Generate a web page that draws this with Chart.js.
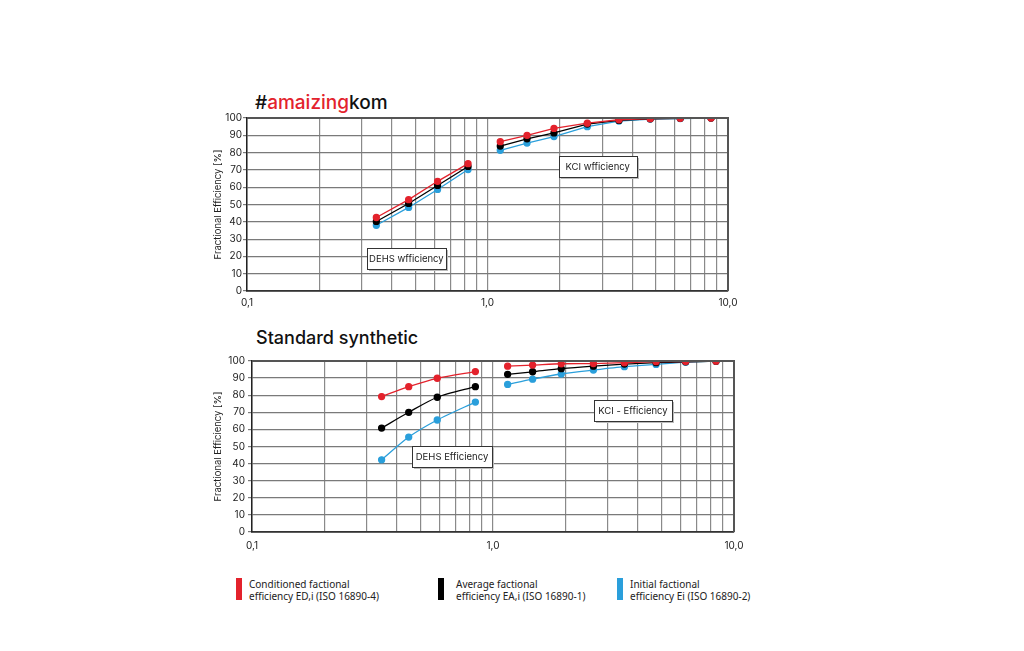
<!DOCTYPE html>
<html>
<head>
<meta charset="utf-8">
<script src="https://cdn.jsdelivr.net/npm/chart.js@4.4.1/dist/chart.umd.min.js"></script>
<style>
  body { margin: 0; background: #fff; width: 1024px; height: 651px; position: relative; overflow: hidden; font-family: Inter, Roboto, sans-serif; }
  .title { position: absolute; font-weight: 500; color: #111; line-height: 1; white-space: nowrap; }
  .title .red { color: #e3222c; }
  .box { position: absolute; }
  .legend-item { position: absolute; top: 578px; height: 22px; }
  .legend-item .sw { position: absolute; left: 0; top: 0; width: 6px; height: 22px; }
  .legend-item .txt { position: absolute; top: 0px; font-family: "Noto Sans", sans-serif; font-size: 10px; line-height: 12px; color: #222; white-space: nowrap; }
</style>
</head>
<body>
<div class="title" style="left:255px; top:93px; font-size:19px;">#<span class="red">amaizing</span>kom</div>
<div class="title" style="left:256px; top:329px; font-size:18px;">Standard synthetic</div>

<div class="box" style="left:200px; top:110px; width:550px; height:202px;"><canvas id="topChart"></canvas></div>
<div class="box" style="left:200px; top:352px; width:556px; height:202px;"><canvas id="bottomChart"></canvas></div>

<div class="legend-item" style="left:236px;"><div class="sw" style="background:#e3222c"></div><div class="txt" style="left:13px">Conditioned factional<br>efficiency ED,i (ISO 16890-4)</div></div>
<div class="legend-item" style="left:438px;"><div class="sw" style="background:#000"></div><div class="txt" style="left:18px">Average factional<br>efficiency EA,i (ISO 16890-1)</div></div>
<div class="legend-item" style="left:617px;"><div class="sw" style="background:#2a9fdb"></div><div class="txt" style="left:13px">Initial factional<br>efficiency Ei (ISO 16890-2)</div></div>

<script>
// particle size ticks (log grid) and labels
const xTicks = [0.1, 0.2, 0.3, 0.4, 0.5, 0.6, 0.7, 0.8, 0.9, 1, 2, 3, 4, 5, 6, 7, 8, 9, 10];
const xTickLabels = ['0,1', '', '', '', '', '', '', '', '', '1,0', '', '', '', '', '', '', '', '', '10,0'];
const yTicks = [0, 10, 20, 30, 40, 50, 60, 70, 80, 90, 100];

// top chart (#amaizingkom)
const topDehsX = [0.345, 0.47, 0.62, 0.83];
const topDehsCond = [42.5, 52.8, 63.4, 73.6];
const topDehsAvg = [40.2, 50.6, 61, 72];
const topDehsInit = [38, 48.3, 58.7, 70.2];
const topKciX = [1.13, 1.46, 1.89, 2.6, 3.52, 4.75, 6.33, 8.5];
const topKciCond = [86.3, 90, 94, 97, 99, 99.6, 99.8, 100];
const topKciAvg = [83.8, 88, 91.4, 96.5, 98.6, 99.5, 99.8, 100];
const topKciInit = [81.3, 85.5, 89.3, 95, 98.2, 99.4, 99.7, 100];

// bottom chart (Standard synthetic)
const botDehsX = [0.345, 0.447, 0.587, 0.845];
const botDehsCond = [79.2, 85, 89.9, 93.8];
const botDehsAvg = [60.8, 70, 78.8, 85];
const botDehsInit = [42.2, 55.5, 65.5, 76];
const botKciX = [1.15, 1.46, 1.92, 2.61, 3.51, 4.75, 6.3, 8.42];
const botKciCond = [97, 97.6, 98.4, 98.5, 99, 99.6, 99.7, 99.9];
const botKciAvg = [92.2, 93.7, 95.5, 97, 98.2, 99, 99.5, 99.9];
const botKciInit = [86.3, 89.4, 92.4, 94.7, 96.7, 98, 99.3, 99.9];

const RED = '#e3222c', BLACK = '#000000', BLUE = '#2a9fdb';
const FONT = 'Inter, Roboto, sans-serif';

function pts(xs, ys) {
  return xs.map((x, i) => ({ x: x, y: ys[i] }));
}

function series(xs, ys, color, tension) {
  return {
    data: pts(xs, ys),
    borderColor: color,
    backgroundColor: color,
    borderWidth: 1.3,
    pointRadius: 3,
    pointHoverRadius: 3,
    tension: tension
  };
}

// boxed text labels placed in data coordinates
const boxLabels = {
  id: 'boxLabels',
  afterDatasetsDraw(chart, args, opts) {
    const ctx = chart.ctx;
    const xs = chart.scales.x, ys = chart.scales.y;
    ctx.save();
    ctx.font = '9.5px ' + FONT;
    ctx.textAlign = 'center';
    ctx.textBaseline = 'middle';
    (opts.items || []).forEach(it => {
      const cx = xs.getPixelForValue(it.x);
      const cy = ys.getPixelForValue(it.y);
      const w = it.w, h = 21;
      const l = Math.round(cx - w / 2) + 0.5, t = Math.round(cy - h / 2) + 0.5;
      ctx.fillStyle = '#bbbbbb';
      ctx.fillRect(l + 1.5, t + 1.5, w, h);
      ctx.fillStyle = '#ffffff';
      ctx.fillRect(l, t, w, h);
      ctx.strokeStyle = '#333333';
      ctx.lineWidth = 1;
      ctx.strokeRect(l, t, w, h);
      ctx.fillStyle = '#222222';
      ctx.fillText(it.text, cx, cy + 0.5);
    });
    ctx.restore();
  }
};

// draw right and top frame edges
const frame = {
  id: 'frame',
  afterDraw(chart) {
    const a = chart.chartArea, ctx = chart.ctx;
    ctx.save();
    ctx.strokeStyle = '#555555';
    ctx.lineWidth = 2;
    ctx.beginPath();
    ctx.moveTo(a.left, a.top);
    ctx.lineTo(a.right, a.top);
    ctx.lineTo(a.right, a.bottom);
    ctx.stroke();
    ctx.restore();
  }
};

function makeChart(id, datasets, items, yWidth, xHeight, tickPad, xPad) {
  return new Chart(document.getElementById(id), {
    type: 'line',
    data: { datasets: datasets },
    plugins: [boxLabels, frame],
    options: {
      responsive: true,
      maintainAspectRatio: false,
      animation: false,
      layout: { padding: { top: 8, right: 22, left: 0, bottom: 0 } },
      plugins: {
        legend: { display: false },
        tooltip: { enabled: false },
        boxLabels: { items: items }
      },
      scales: {
        x: {
          type: 'logarithmic',
          min: 0.1,
          max: 10,
          afterBuildTicks: s => { s.ticks = xTicks.map(v => ({ value: v })); },
          afterFit: s => { s.height = xHeight; },
          grid: { color: '#8a8a8a', lineWidth: 1.2, drawTicks: false },
          border: { color: '#333333', width: 1.8 },
          ticks: {
            autoSkip: false,
            maxRotation: 0,
            padding: xPad,
            color: '#222',
            font: { family: FONT, size: 10 },
            callback: (v, i) => xTickLabels[i]
          }
        },
        y: {
          min: 0,
          max: 100,
          afterBuildTicks: s => { s.ticks = yTicks.map(v => ({ value: v })); },
          afterFit: s => { s.width = yWidth; },
          grid: { color: '#7a7a7a', lineWidth: 1.2, tickLength: 4 },
          border: { color: '#222222', width: 1.5 },
          title: {
            display: true,
            text: 'Fractional Efficiency [%]',
            color: '#222',
            font: { family: FONT, size: 9.5 },
            padding: { top: 12, bottom: 0 }
          },
          ticks: {
            padding: tickPad,
            color: '#222',
            font: { family: FONT, size: 10 }
          }
        }
      }
    }
  });
}

makeChart('topChart', [
  series(topDehsX, topDehsCond, RED, 0),
  series(topKciX, topKciCond, RED, 0),
  series(topDehsX, topDehsAvg, BLACK, 0),
  series(topKciX, topKciAvg, BLACK, 0),
  series(topDehsX, topDehsInit, BLUE, 0),
  series(topKciX, topKciInit, BLUE, 0)
], [
  { text: 'DEHS wfficiency', x: 0.46, y: 18.7, w: 79 },
  { text: 'KCI wfficiency', x: 2.87, y: 72, w: 78 }
], 47, 21, 1, 6);

makeChart('bottomChart', [
  series(botDehsX, botDehsCond, RED, 0.25),
  series(botKciX, botKciCond, RED, 0.25),
  series(botDehsX, botDehsAvg, BLACK, 0.25),
  series(botKciX, botKciAvg, BLACK, 0.25),
  series(botDehsX, botDehsInit, BLUE, 0.25),
  series(botKciX, botKciInit, BLUE, 0.25)
], [
  { text: 'DEHS Efficiency', x: 0.676, y: 44, w: 80 },
  { text: 'KCI - Efficiency', x: 3.81, y: 71.2, w: 78 }
], 52, 22, 3, 8);
</script>
</body>
</html>
